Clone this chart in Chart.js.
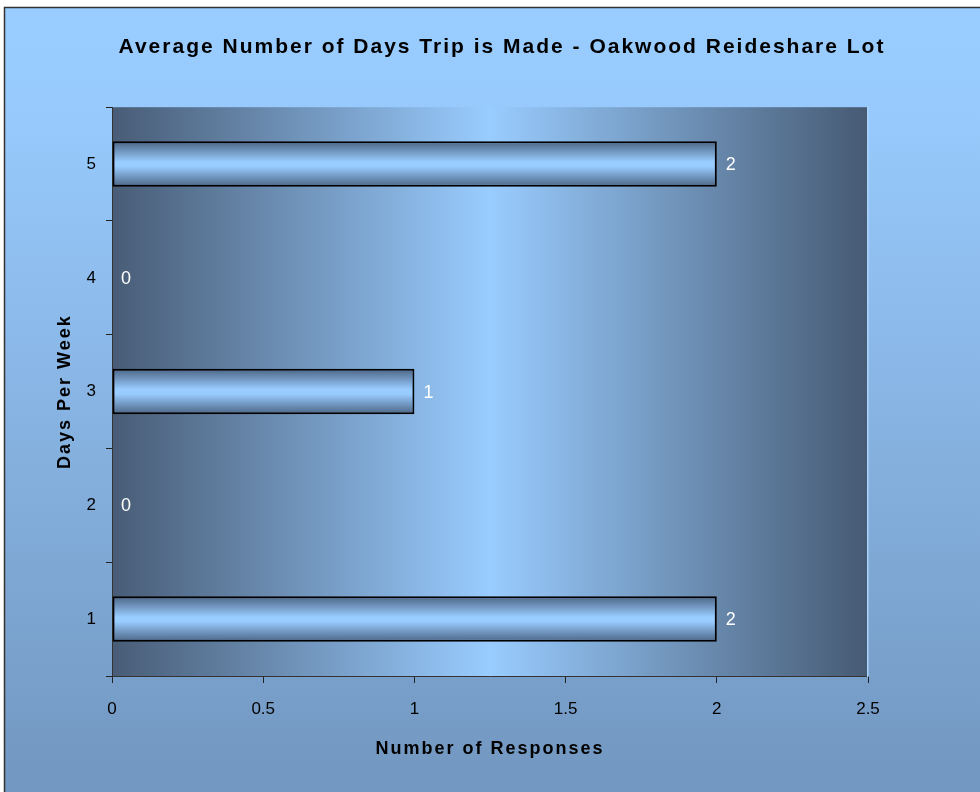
<!DOCTYPE html>
<html>
<head>
<meta charset="utf-8">
<script src="https://cdn.jsdelivr.net/npm/chart.js@4.4.0/dist/chart.umd.min.js"></script>
<style>
  html, body { margin: 0; padding: 0; background: #fff; }
</style>
</head>
<body>
<canvas id="chart" width="980" height="792"></canvas>
<script>
// data
const days = ["1", "2", "3", "4", "5"];
const responses = [2, 0, 1, 0, 2];
const xTicks = [0, 0.5, 1, 1.5, 2, 2.5];

const FONT = "'Liberation Sans', Arial, sans-serif";

// page + plot-area gradients
const backdrop = {
  id: "backdrop",
  beforeDraw(chart) {
    const { ctx, width, height } = chart;
    const { left, right, top, bottom } = chart.chartArea;
    ctx.save();
    ctx.fillStyle = "#fff";
    ctx.fillRect(0, 0, width, height);

    const g = ctx.createLinearGradient(0, 7, 0, height);
    g.addColorStop(0, "#99CCFF");
    g.addColorStop(0.15, "#97C9FC");
    g.addColorStop(1, "#7297C0");
    ctx.fillStyle = g;
    ctx.fillRect(4, 7, width, height);

    ctx.strokeStyle = "#333";
    ctx.lineWidth = 1.5;
    ctx.beginPath();
    ctx.moveTo(4.5, height);
    ctx.lineTo(4.5, 7.5);
    ctx.lineTo(width, 7.5);
    ctx.stroke();

    const pg = ctx.createLinearGradient(left, 0, right, 0);
    pg.addColorStop(0, "#485C76");
    pg.addColorStop(0.5, "#99CCFF");
    pg.addColorStop(1, "#465A73");
    ctx.fillStyle = pg;
    ctx.fillRect(left, top, right - left, bottom - top);
    ctx.restore();
    // titles in the original are loosely spaced
    ctx.letterSpacing = "2px";
  },
  beforeDatasetsDraw(chart) {
    chart.ctx.letterSpacing = "0px";
  }
};

// white value labels at the bar ends
const valueLabels = {
  id: "valueLabels",
  afterDatasetsDraw(chart) {
    const { ctx } = chart;
    const meta = chart.getDatasetMeta(0);
    ctx.save();
    ctx.fillStyle = "#fff";
    ctx.font = "18px " + FONT;
    ctx.textAlign = "left";
    ctx.textBaseline = "middle";
    meta.data.forEach((bar, i) => {
      ctx.fillText(String(responses[i]), bar.x + 9, bar.y + 1);
    });
    ctx.restore();
  }
};

function barGradient(context) {
  const chart = context.chart;
  const y = chart.scales.y;
  if (!y || !chart.chartArea) return "#99CCFF";
  const yc = y.getPixelForValue(context.dataIndex);
  const half = (chart.chartArea.bottom - chart.chartArea.top) / days.length * 0.2;
  const g = chart.ctx.createLinearGradient(0, yc - half, 0, yc + half);
  g.addColorStop(0, "#4B6484");
  g.addColorStop(0.45, "#99CCFF");
  g.addColorStop(0.55, "#99CCFF");
  g.addColorStop(1, "#4B6484");
  return g;
}

new Chart(document.getElementById("chart").getContext("2d"), {
  type: "bar",
  data: {
    labels: days,
    datasets: [
      {
        label: "Number of Responses",
        data: responses,
        backgroundColor: barGradient,
        borderColor: "#000",
        borderWidth: (c) => (responses[c.dataIndex] === 0 ? 0 : 2),
        borderSkipped: false,
        categoryPercentage: 1,
        barPercentage: 0.4
      }
    ]
  },
  options: {
    indexAxis: "y",
    responsive: false,
    animation: false,
    layout: { padding: { left: 44, right: 20, top: 0, bottom: 24 } },
    plugins: {
      legend: { display: false },
      tooltip: { enabled: false },
      title: {
        display: true,
        text: "Average Number of Days Trip is Made - Oakwood Reideshare Lot",
        color: "#000",
        font: { family: FONT, size: 21, weight: "bold" },
        padding: { top: 35, bottom: 47 }
      }
    },
    scales: {
      x: {
        type: "linear",
        min: 0,
        max: 2.5,
        afterBuildTicks: (s) => { s.ticks = xTicks.map((v) => ({ value: v })); },
        afterFit: (s) => { s.height = 92; },
        ticks: {
          z: 1,
          color: "#000",
          font: { family: FONT, size: 17 },
          padding: 16,
          callback: (v) => String(v)
        },
        grid: { drawOnChartArea: false, drawTicks: true, tickLength: 7, tickColor: "#222" },
        border: { display: true, color: "#333", width: 1 },
        title: {
          display: true,
          text: "Number of Responses",
          color: "#000",
          font: { family: FONT, size: 18, weight: "bold" },
          padding: { top: 0, bottom: 8 }
        }
      },
      y: {
        type: "category",
        reverse: true,
        offset: true,
        afterFit: (s) => { s.width = 68; },
        ticks: {
          z: 1,
          color: "#000",
          font: { family: FONT, size: 17 },
          padding: 10
        },
        grid: { offset: true, drawOnChartArea: false, drawTicks: true, tickLength: 6, tickColor: "#222" },
        border: { display: true, color: "#333", width: 1 },
        title: {
          display: true,
          text: "Days Per Week",
          color: "#000",
          font: { family: FONT, size: 18, weight: "bold" },
          padding: { top: 10, bottom: 0 }
        }
      },
      y2: {
        type: "linear",
        position: "right",
        display: true,
        afterFit: (s) => { s.width = 92; },
        ticks: { display: false },
        grid: { display: false, drawTicks: false },
        border: { display: true, color: "#A9D3FB", width: 1.5 }
      }
    }
  },
  plugins: [backdrop, valueLabels]
});
</script>
</body>
</html>
